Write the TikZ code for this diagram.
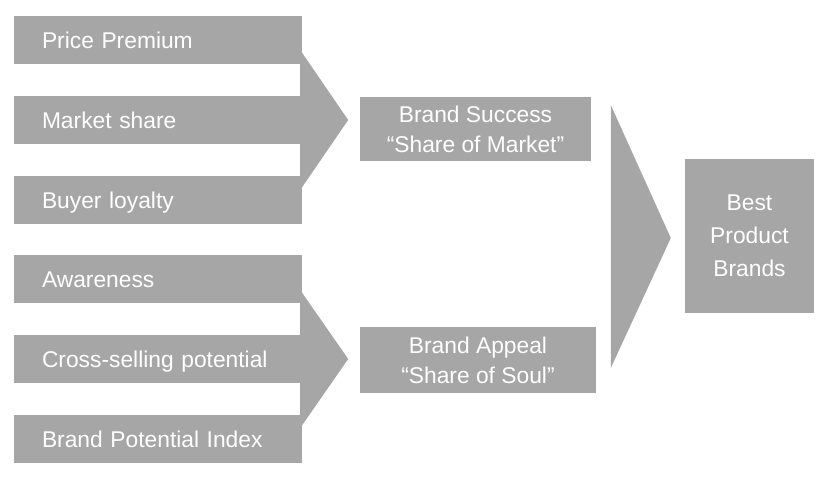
\documentclass[tikz,border=0pt]{standalone}
\usepackage{fontspec}
\setmainfont{Liberation Sans}
\usetikzlibrary{positioning}
\definecolor{boxgray}{HTML}{A6A6A6}

\begin{document}
\begin{tikzpicture}[x=1pt,y=1pt,node distance=80pt,on grid,
  every node/.style={text=white,font=\fontsize{22.8}{30}\selectfont},
  measure/.style={fill=boxgray,minimum width=288pt,minimum height=48pt,
    text width=232pt,inner xsep=28pt,inner ysep=0pt,align=left,
    text height=17pt,text depth=0pt},
  result/.style={fill=boxgray,align=center,inner sep=0pt},
  chevron/.style={fill=boxgray}]
\useasboundingbox (0,0) rectangle (824,-486);

\node[measure] (price) at (158,-40) {Price Premium};
\node[measure] (share) [below=of price] {Market share};
\node[measure] (loyal) [below=of share] {Buyer loyalty};
\node[measure] (aware) [below=79pt of loyal] {Awareness};
\node[measure] (cross) [below=of aware] {Cross-selling potential};
\node[measure] (bpi) [below=of cross] {Brand Potential Index};

\node[result, minimum width=231pt, minimum height=64pt] (success) at (475.5,-129) {Brand Success\\“Share of Market”};
\node[result, minimum width=236pt, minimum height=66pt] (appeal) at (478,-360) {Brand Appeal\\“Share of Soul”};
\node[result, minimum width=129pt, minimum height=154pt,
  font=\fontsize{22.8}{33}\selectfont] (best) at (749.5,-236) {Best\\Product\\Brands};

\fill[chevron] ([xshift=-2pt,yshift=70pt]share.east) -- ([xshift=46pt]share.east)
  -- ([xshift=-2pt,yshift=-70pt]share.east) -- cycle;
\fill[chevron] ([xshift=-2pt,yshift=69pt]cross.east) -- ([xshift=46pt]cross.east)
  -- ([xshift=-2pt,yshift=-69pt]cross.east) -- cycle;
\fill[chevron] ([xshift=-74pt,yshift=131pt]best.west) -- ([xshift=-14pt,yshift=-2pt]best.west)
  -- ([xshift=-74pt,yshift=-132pt]best.west) -- cycle; %big arrow
\end{tikzpicture}
\end{document}
